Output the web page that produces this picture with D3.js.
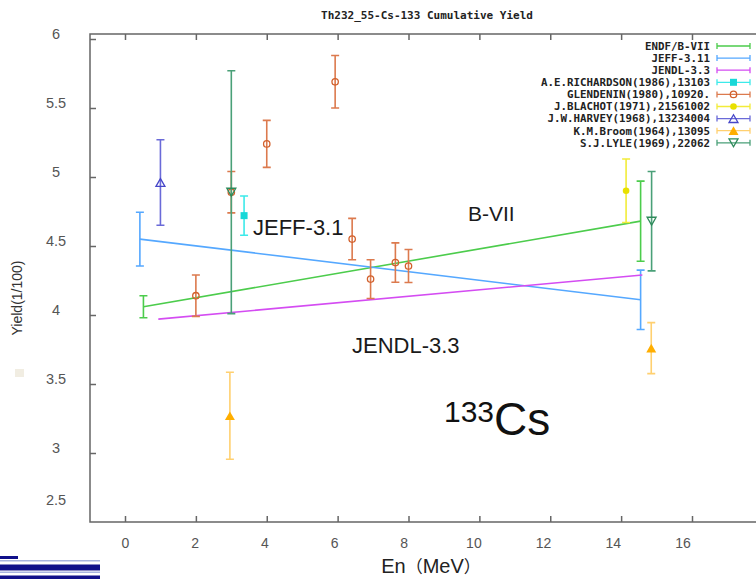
<!DOCTYPE html>
<html>
<head>
<meta charset="utf-8">
<script src="https://cdn.jsdelivr.net/npm/d3@7/dist/d3.min.js"></script>
<style>
  html, body { margin: 0; padding: 0; background: #fff; }
  svg { display: block; }
</style>
</head>
<body>
<svg id="chart" width="756" height="579"></svg>
<script>
// ---- Data: Th-232 fission, Cs-133 cumulative yield (%) vs neutron energy (MeV)
const xTicks = [0, 2, 4, 6, 8, 10, 12, 14, 16];
const yTicks = [2.5, 3, 3.5, 4, 4.5, 5, 5.5, 6];

const endfE = [0.52, 14.55];
const endfY = [4.06, 4.68];
const endfErr = [0.08, 0.29];

const jeffE = [0.42, 14.55];
const jeffY = [4.55, 4.11];
const jeffErr = [0.195, 0.215];

const jendlE = [0.94, 14.6];
const jendlY = [3.97, 4.29];
const jendlErr = [0, 0];

const richardsonE = [3.36];
const richardsonY = [4.72];
const richardsonErr = [0.142];

const glendeninE = [2.0, 3.0, 4.0, 5.93, 6.41, 6.93, 7.63, 8.0];
const glendeninY = [4.14, 4.89, 5.24, 5.69, 4.55, 4.26, 4.38, 4.355];
const glendeninErr = [0.15, 0.15, 0.17, 0.19, 0.15, 0.14, 0.143, 0.12];

const blachotE = [14.14];
const blachotY = [4.90];
const blachotErr = [0.23];

const harveyE = [1.0];
const harveyY = [4.96];
const harveyErr = [0.31];

const broomE = [2.96, 14.85];
const broomY = [3.27, 3.76];
const broomErr = [0.315, 0.185];

const lyleE = [3.0, 14.86];
const lyleY = [4.89, 4.68];
const lyleErr = [0.88, 0.36];

const seriesNames = [
  "ENDF/B-VII", "JEFF-3.11", "JENDL-3.3",
  "A.E.RICHARDSON(1986),13103", "GLENDENIN(1980),10920.",
  "J.BLACHOT(1971),21561002", "J.W.HARVEY(1968),13234004",
  "K.M.Broom(1964),13095", "S.J.LYLE(1969),22062"
];

// ---- Series table built from the arrays above
const zip = (e, v, err) => e.map((d, i) => ({ e: d, v: v[i], err: err[i] }));
const series = [
  { name: seriesNames[0], pts: zip(endfE, endfY, endfErr), line: true, color: "#4ccc4c", bar: "#4ccc4c", marker: null },
  { name: seriesNames[1], pts: zip(jeffE, jeffY, jeffErr), line: true, color: "#55a8ff", bar: "#55a8ff", marker: null },
  { name: seriesNames[2], pts: zip(jendlE, jendlY, jendlErr), line: true, color: "#d44cf2", bar: "#d44cf2", marker: null },
  { name: seriesNames[3], pts: zip(richardsonE, richardsonY, richardsonErr), color: "#18d8d8", bar: "#3ceaea", marker: "square" },
  { name: seriesNames[4], pts: zip(glendeninE, glendeninY, glendeninErr), color: "#d2602c", bar: "#dc7a4e", marker: "circle" },
  { name: seriesNames[5], pts: zip(blachotE, blachotY, blachotErr), color: "#e8e000", bar: "#f2ec3a", marker: "dot" },
  { name: seriesNames[6], pts: zip(harveyE, harveyY, harveyErr), color: "#4646c8", bar: "#6a6ad8", marker: "triangle" },
  { name: seriesNames[7], pts: zip(broomE, broomY, broomErr), color: "#ffae00", bar: "#ffd070", marker: "triangleFill" },
  { name: seriesNames[8], pts: zip(lyleE, lyleY, lyleErr), color: "#2e8a5a", bar: "#4aa078", marker: "triangleDown" }
];

// ---- Layout
const frame = { left: 90, top: 34, bottom: 522, right: 756 };

const x = d3.scaleLinear().domain([0, 16]).range([125, 692]);
const y = d3.scaleLinear().domain([2.5, 6]).range([522, 39]);

const svg = d3.select("#chart");

// slide decoration, bottom-left stripes
const deco = svg.append("g");
deco.append("rect").attr("x", 0).attr("y", 556).attr("width", 18).attr("height", 3).attr("fill", "#10108a");
deco.append("rect").attr("x", 0).attr("y", 560).attr("width", 100).attr("height", 1.5).attr("fill", "#a8b4e0");
deco.append("rect").attr("x", 0).attr("y", 564.5).attr("width", 100).attr("height", 6).attr("fill", "#10108a");
deco.append("rect").attr("x", 0).attr("y", 571.5).attr("width", 100).attr("height", 1.5).attr("fill", "#a8b4e0");
deco.append("rect").attr("x", 0).attr("y", 575.5).attr("width", 100).attr("height", 4).attr("fill", "#10108a");
deco.append("rect").attr("x", 15).attr("y", 369).attr("width", 9).attr("height", 8).attr("fill", "#f1ede2");

// Title
svg.append("text")
  .attr("x", 427).attr("y", 19)
  .attr("text-anchor", "middle")
  .attr("font-family", "'DejaVu Sans Mono', monospace")
  .attr("font-weight", "bold")
  .attr("font-size", 11)
  .attr("fill", "#222")
  .text("Th232_55-Cs-133 Cumulative Yield");

// Frame
const frameColor = "#666";
svg.append("path")
  .attr("d", `M${frame.right},${frame.top}H${frame.left}V${frame.bottom}H${frame.right}`)
  .attr("fill", "none").attr("stroke", frameColor).attr("stroke-width", 1.5);

// Axes
const tickFont = "'Liberation Sans', Arial, sans-serif";

const xAxis = svg.append("g")
  .attr("transform", `translate(0,${frame.bottom})`)
  .call(d3.axisBottom(x).tickValues(xTicks).tickSizeInner(-6).tickSizeOuter(0).tickPadding(16));
xAxis.select(".domain").remove();
xAxis.selectAll(".tick line").attr("stroke", frameColor).attr("stroke-width", 1.5);
xAxis.selectAll(".tick text")
  .attr("font-family", tickFont).attr("font-size", 14).attr("fill", "#555")
  .attr("x", d => -0.6 * d);

const xTop = svg.append("g")
  .attr("transform", `translate(0,${frame.top})`)
  .call(d3.axisTop(x).tickValues(xTicks).tickSizeInner(-6).tickSizeOuter(0).tickFormat(""));
xTop.select(".domain").remove();
xTop.selectAll(".tick line").attr("stroke", frameColor).attr("stroke-width", 1.5);

const yAxis = svg.append("g")
  .attr("transform", `translate(${frame.left},0)`)
  .call(d3.axisLeft(y).tickValues(yTicks).tickSizeInner(-6).tickSizeOuter(0).tickFormat(d3.format("")));
yAxis.select(".domain").remove();
yAxis.selectAll(".tick line").attr("stroke", frameColor).attr("stroke-width", 1.5)
  .filter(d => d === 2.5).remove();
yAxis.selectAll(".tick text")
  .attr("font-family", tickFont).attr("font-size", 14.5).attr("fill", "#555")
  .attr("text-anchor", "middle")
  .attr("x", -34)
  .attr("y", d => d === 2.5 ? -22 : -5);

// Axis titles
svg.append("text")
  .attr("transform", "translate(22,298) rotate(-90)")
  .attr("text-anchor", "middle")
  .attr("font-family", tickFont).attr("font-size", 14).attr("fill", "#333")
  .text("Yield(1/100)");

const xTitle = svg.append("text")
  .attr("x", 431).attr("y", 573)
  .attr("text-anchor", "middle")
  .attr("font-family", "'Liberation Sans', sans-serif")
  .attr("font-size", 20).attr("fill", "#222");
xTitle.append("tspan").text("En");
xTitle.append("tspan").attr("font-family", "'Noto Sans CJK SC', sans-serif").attr("font-size", 17).text("（");
xTitle.append("tspan").text("MeV");
xTitle.append("tspan").attr("font-family", "'Noto Sans CJK SC', sans-serif").attr("font-size", 17).text("）");

// ---- Marks
const capW = 4;

function drawMarker(g, type, cx, cy, color) {
  const tri = (s, down) => {
    const h = s * 0.87;
    return down
      ? `M${cx - s / 2},${cy - h / 2}L${cx + s / 2},${cy - h / 2}L${cx},${cy + h / 2}Z`
      : `M${cx - s / 2},${cy + h / 2}L${cx + s / 2},${cy + h / 2}L${cx},${cy - h / 2}Z`;
  };
  if (type === "square") {
    g.append("rect").attr("x", cx - 3.5).attr("y", cy - 3.5).attr("width", 7).attr("height", 7).attr("fill", color);
  } else if (type === "circle") {
    g.append("circle").attr("cx", cx).attr("cy", cy).attr("r", 3.2).attr("fill", "none").attr("stroke", color).attr("stroke-width", 1.3);
  } else if (type === "dot") {
    g.append("circle").attr("cx", cx).attr("cy", cy).attr("r", 3.3).attr("fill", color);
  } else if (type === "triangle") {
    g.append("path").attr("d", tri(9, false)).attr("fill", "none").attr("stroke", color).attr("stroke-width", 1.3);
  } else if (type === "triangleFill") {
    g.append("path").attr("d", tri(10, false)).attr("fill", color);
  } else if (type === "triangleDown") {
    g.append("path").attr("d", tri(9, true)).attr("fill", "none").attr("stroke", color).attr("stroke-width", 1.3);
  }
}

const plot = svg.append("g");
series.forEach(s => {
  const g = plot.append("g");
  if (s.line) {
    g.append("path")
      .datum(s.pts)
      .attr("d", d3.line().x(d => x(d.e)).y(d => y(d.v)))
      .attr("fill", "none").attr("stroke", s.color).attr("stroke-width", 1.6);
  }
  s.pts.forEach(p => {
    if (p.err > 0) {
      const cx = x(p.e), y0 = y(p.v - p.err), y1 = y(p.v + p.err);
      g.append("path")
        .attr("d", `M${cx},${y0}V${y1}M${cx - capW},${y0}H${cx + capW}M${cx - capW},${y1}H${cx + capW}`)
        .attr("fill", "none").attr("stroke", s.bar).attr("stroke-width", 1.6);
    }
    if (s.marker) drawMarker(g, s.marker, x(p.e), y(p.v), s.color);
  });
});

// ---- Legend
const legend = svg.append("g");
const legFirst = 46, legStep = 12.1;
series.forEach((s, i) => {
  const ly = legFirst + i * legStep;
  legend.append("text")
    .attr("x", 710).attr("y", ly + 3.8)
    .attr("text-anchor", "end")
    .attr("font-family", "'DejaVu Sans Mono', monospace")
    .attr("font-weight", "bold")
    .attr("font-size", 10.8)
    .attr("fill", "#222")
    .text(s.name);
  legend.append("path")
    .attr("d", `M717,${ly}H750M717,${ly - 3}V${ly + 3}M750,${ly - 3}V${ly + 3}`)
    .attr("fill", "none").attr("stroke", s.bar).attr("stroke-width", 1.3);
  if (s.marker) drawMarker(legend, s.marker, 733.5, ly, s.color);
});

// ---- Annotations
const annFont = "'Liberation Sans', Arial, sans-serif";
svg.append("text").attr("x", 253).attr("y", 235)
  .attr("font-family", annFont).attr("font-size", 22).attr("fill", "#1a1a1a").text("JEFF-3.1");
svg.append("text").attr("x", 468).attr("y", 221)
  .attr("font-family", annFont).attr("font-size", 21).attr("fill", "#1a1a1a").text("B-VII");
svg.append("text").attr("x", 352).attr("y", 353)
  .attr("font-family", annFont).attr("font-size", 22).attr("fill", "#1a1a1a").text("JENDL-3.3");

const nuc = svg.append("text").attr("x", 444).attr("y", 435)
  .attr("font-family", annFont).attr("fill", "#111");
nuc.append("tspan").attr("font-size", 30).attr("dy", -13).text("133");
nuc.append("tspan").attr("font-size", 46).attr("dy", 13).text("Cs");
</script>
</body>
</html>
